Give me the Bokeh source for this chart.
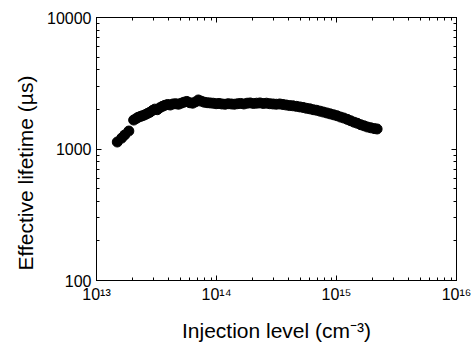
from bokeh.plotting import figure
from bokeh.models import LogAxis, LogTicker, Title, CustomJSTickFormatter
from bokeh.embed import file_html
from bokeh.resources import INLINE

# Injection level (cm^-3)
injection = [1.49e13, 1.62e13, 1.72e13, 1.86e13, 2.04e13, 2.13e13, 2.22e13, 2.32e13, 2.42e13,
             2.53e13, 2.65e13, 2.78e13, 2.92e13, 3.06e13, 3.21e13, 3.37e13, 3.54e13, 3.72e13,
             3.92e13, 4.12e13, 4.34e13, 4.57e13, 4.82e13, 5.08e13, 5.36e13, 5.66e13, 5.98e13,
             6.32e13, 6.68e13, 7.06e13, 7.47e13, 7.90e13, 8.36e13, 8.85e13, 9.37e13, 9.93e13,
             1.05e14, 1.11e14, 1.18e14, 1.25e14, 1.33e14, 1.41e14, 1.50e14, 1.59e14, 1.69e14,
             1.80e14, 1.91e14, 2.03e14, 2.16e14, 2.30e14, 2.45e14, 2.61e14, 2.78e14, 2.96e14,
             3.15e14, 3.36e14, 3.58e14, 3.82e14, 4.07e14, 4.34e14, 4.63e14, 4.94e14, 5.27e14,
             5.62e14, 6.00e14, 6.40e14, 6.83e14, 7.29e14, 7.78e14, 8.30e14, 8.86e14, 9.45e14,
             1.01e15, 1.08e15, 1.15e15, 1.23e15, 1.31e15, 1.40e15, 1.49e15, 1.59e15, 1.70e15,
             1.81e15, 1.93e15, 2.06e15, 2.18e15]
# Effective lifetime (us)
lifetime = [1130, 1210, 1280, 1370, 1660, 1700, 1740, 1770, 1790,
            1820, 1860, 1900, 1960, 2010, 1990, 2060, 2110, 2150,
            2180, 2160, 2200, 2210, 2190, 2230, 2270, 2300, 2250,
            2230, 2280, 2360, 2310, 2270, 2250, 2240, 2230, 2210,
            2220, 2200, 2190, 2210, 2200, 2190, 2210, 2220, 2200,
            2230, 2240, 2220, 2230, 2240, 2220, 2230, 2210, 2200,
            2190, 2200, 2180, 2160, 2140, 2130, 2110, 2090, 2070,
            2040, 2020, 1990, 1970, 1940, 1910, 1880, 1850, 1820,
            1790, 1750, 1720, 1680, 1640, 1600, 1570, 1530, 1500,
            1470, 1450, 1430, 1420]

x_ticks = [1e13, 1e14, 1e15, 1e16]
x_tick_labels = ["10¹³", "10¹⁴", "10¹⁵", "10¹⁶"]
y_ticks = [100, 1000, 10000]
y_tick_labels = ["100", "1000", "10000"]

x_title = "Injection level (cm⁻³)"
y_title = "Effective lifetime (µs)"

FONT = "Liberation Sans"

p = figure(width=473, height=345, x_axis_type="log", y_axis_type="log",
           x_range=(1e13, 1e16), y_range=(100, 10000),
           output_backend="svg", toolbar_location=None,
           min_border_left=96, min_border_right=17, min_border_top=17, min_border_bottom=65)
p.xgrid.visible = False
p.ygrid.visible = False
p.outline_line_color = "black"
p.background_fill_color = "white"
p.border_fill_color = "white"

p.scatter(injection, lifetime, marker="circle", size=10, fill_color="black", line_color="black")

def style_axis(ax):
    ax.axis_line_color = "black"
    ax.axis_line_width = 1
    ax.major_tick_in = 5
    ax.major_tick_out = 0
    ax.minor_tick_in = 3
    ax.minor_tick_out = 0
    ax.major_tick_line_color = "black"
    ax.minor_tick_line_color = "black"
    ax.major_label_text_font = FONT
    ax.major_label_text_font_size = "16px"
    ax.major_label_text_color = "black"
    ax.ticker = LogTicker(num_minor_ticks=10)

for ax in (p.xaxis[0], p.yaxis[0]):
    style_axis(ax)
    ax.major_label_standoff = 5

p.xaxis[0].major_label_overrides = dict(zip(x_ticks, x_tick_labels))
p.yaxis[0].major_label_overrides = dict(zip(y_ticks, y_tick_labels))

p.xaxis[0].axis_label = x_title
p.xaxis[0].axis_label_text_font = FONT
p.xaxis[0].axis_label_text_font_size = "21px"
p.xaxis[0].axis_label_text_font_style = "normal"
p.xaxis[0].axis_label_text_color = "black"
p.xaxis[0].axis_label_standoff = 13

blank = CustomJSTickFormatter(code="return '';")
top = LogAxis(formatter=blank)
right = LogAxis(formatter=blank)
for ax in (top, right):
    style_axis(ax)
    ax.major_label_text_font_size = "0px"
    ax.major_label_standoff = 0
p.add_layout(top, "above")
p.add_layout(right, "right")

ytitle = Title(text=y_title, align="left", offset=10, standoff=16,
               text_font=FONT, text_font_size="21px", text_font_style="normal",
               text_color="black")
p.add_layout(ytitle, "left")

open("out.html", "w").write(file_html(p, INLINE))
